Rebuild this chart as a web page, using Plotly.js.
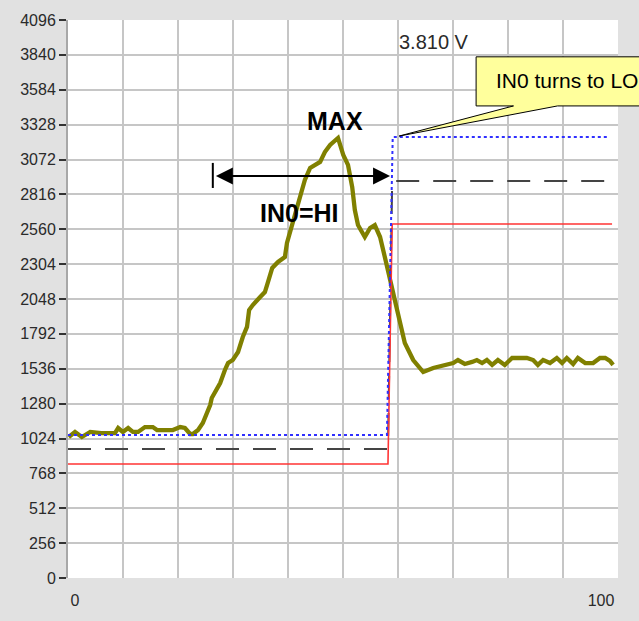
<!DOCTYPE html>
<html>
<head>
<meta charset="utf-8">
<script src="https://cdn.plot.ly/plotly-3.0.1.min.js"></script>
<style>
  html, body { margin: 0; padding: 0; background: #e1e1e1; }
  #chart { width: 639px; height: 621px; }
</style>
</head>
<body>
<div id="chart"></div>
<script>
// ---- data (sample index vs ADC value) ----
const signalX = [-1.2, 0, 1.3, 2.9, 5, 7.6, 8.2, 9.1, 10.1, 11.0, 12.0, 13.3, 14.8, 15.6, 18.6, 20.0, 20.9, 21.9, 22.4, 23.4, 24.3, 25.1, 25.7, 26.0, 27.6, 28.5, 29.1, 30.0, 31.0, 31.9, 32.7, 33.1, 33.8, 35.2, 36.1, 36.7, 37.5, 38.6, 39.9, 40.3, 40.9, 41.8, 42.8, 43.7, 44.7, 46.6, 47.5, 48.5, 50.0, 51.0, 51.9, 52.7, 53.2, 53.8, 55.1, 56.1, 57.0, 58.0, 58.9, 59.9, 60.8, 61.8, 62.7, 64.3, 66.2, 68.1, 70.0, 71.9, 72.8, 74.1, 75.5, 76.4, 77.4, 78.3, 79.3, 80.4, 81.7, 83.1, 84.6, 85.9, 87.1, 88.0, 89.0, 90.3, 91.6, 92.6, 93.5, 94.7, 95.6, 97.0, 98.5, 99.8, 100.8, 101.7, 102.3];
const signalY = [1035, 1072, 1035, 1072, 1064, 1064, 1101, 1072, 1101, 1072, 1072, 1108, 1108, 1086, 1086, 1108, 1101, 1057, 1057, 1086, 1138, 1211, 1270, 1321, 1431, 1527, 1578, 1600, 1659, 1769, 1843, 1967, 2004, 2063, 2099, 2173, 2276, 2320, 2356, 2459, 2540, 2665, 2800, 2922, 3010, 3054, 3127, 3179, 3230, 3105, 3032, 2870, 2701, 2591, 2503, 2569, 2591, 2503, 2356, 2188, 2019, 1843, 1725, 1600, 1512, 1542, 1564, 1578, 1600, 1571, 1586, 1600, 1578, 1600, 1564, 1600, 1564, 1615, 1615, 1615, 1600, 1564, 1600, 1578, 1615, 1578, 1615, 1571, 1615, 1578, 1578, 1615, 1615, 1593, 1564];

const blueX = [-1.33, 59.3, 60.4, 101.3];
const blueY = [1050, 1050, 3237, 3237];
const dashX = [-1.33, 59.5, 60.3, 100.8];
const dashY = [947, 947, 2914, 2914];
const redX  = [-1.33, 59.5, 60.3, 102.1];
const redY  = [837, 837, 2599, 2599];

const xTickVals = [0, 100];
const xTickText = ['0', '100'];
const yTickVals = [0, 256, 512, 768, 1024, 1280, 1536, 1792, 2048, 2304, 2560, 2816, 3072, 3328, 3584, 3840, 4096];
const yTickText = yTickVals.map(String);

const FONT = '"Liberation Sans", Arial, sans-serif';

const traces = [
  { x: [0, 10], y: [null, null], xaxis: 'x2', yaxis: 'y', mode: 'lines',
    showlegend: false, hoverinfo: 'skip' },
  { x: signalX, y: signalY, mode: 'lines', line: { color: '#808000', width: 4.3 },
    showlegend: false },
  { x: dashX, y: dashY, mode: 'lines', line: { color: '#444444', width: 2, dash: '23px,14px' },
    showlegend: false },
  { x: redX, y: redY, mode: 'lines', line: { color: '#ff3535', width: 1.6 },
    showlegend: false },
  { x: blueX, y: blueY, mode: 'lines', line: { color: '#3030ff', width: 2, dash: 'dot' },
    showlegend: false }
];

const layout = {
  width: 639, height: 621,
  margin: { l: 68, r: 21, t: 20, b: 43 },
  paper_bgcolor: '#e1e1e1',
  plot_bgcolor: '#ffffff',
  font: { family: FONT, color: '#2a2a2a', size: 16 },
  showlegend: false,
  xaxis: {
    range: [-1.33, 103.23], tickvals: xTickVals, ticktext: xTickText,
    showgrid: false, zeroline: false, showline: false,
    ticks: 'outside', ticklen: 8, tickcolor: 'rgba(0,0,0,0)',
    tickfont: { size: 16, color: '#2a2a2a' }, fixedrange: true
  },
  xaxis2: {
    range: [0, 10], dtick: 1, tick0: 0, overlaying: 'x', anchor: 'y',
    showgrid: true, gridcolor: '#c6c6c6', gridwidth: 2,
    showticklabels: false, ticks: '', zeroline: false, showline: false
  },
  yaxis: {
    range: [0, 4096], tickvals: yTickVals, ticktext: yTickText,
    showgrid: true, gridcolor: '#c6c6c6', gridwidth: 2,
    zeroline: false, showline: true, linecolor: '#a8a8a8', linewidth: 2,
    ticks: 'outside', ticklen: 7, tickwidth: 2, tickcolor: '#333333',
    tickfont: { size: 16, color: '#2a2a2a' }
  },
  shapes: [
    // end bar of the IN0=HI arrow
    { type: 'line', xref: 'x', yref: 'y', x0: 26.2, x1: 26.2, y0: 2863, y1: 3047,
      line: { color: '#000000', width: 2 } },
    // callout balloon
    { type: 'path', xref: 'paper', yref: 'paper', layer: 'above',
      path: 'M 0.742 0.846 L 0.742 0.934 L 1.2 0.934 L 1.2 0.846 L 0.89 0.846 L 0.602 0.792 L 0.81 0.846 Z',
      fillcolor: '#ffff9c', line: { color: '#000000', width: 1 } }
  ],
  annotations: [
    { x: 59.9, y: 2951, ax: 26.5, ay: 2951, xref: 'x', yref: 'y', axref: 'x', ayref: 'y',
      text: '', showarrow: true, arrowhead: 2, startarrowhead: 2, arrowside: 'end+start',
      arrowsize: 1.7, startarrowsize: 1.7, arrowwidth: 2, arrowcolor: '#000000' },
    { x: 49.4, y: 3355, xref: 'x', yref: 'y', text: '<b>MAX</b>', showarrow: false,
      font: { size: 25, color: '#000000', family: FONT } },
    { x: 42.6, y: 2679, xref: 'x', yref: 'y', text: '<b>IN0=HI</b>', showarrow: false,
      font: { size: 25, color: '#000000', family: FONT } },
    { x: 0.598, y: 0.961, xref: 'paper', yref: 'paper', xanchor: 'left', yanchor: 'middle',
      text: '3.810 V', showarrow: false, font: { size: 20, color: '#2a2a2a', family: FONT } },
    { x: 0.775, y: 0.891, xref: 'paper', yref: 'paper', xanchor: 'left', yanchor: 'middle',
      text: 'IN0 turns to LO', showarrow: false, font: { size: 21, color: '#000000', family: FONT } }
  ]
};

Plotly.newPlot('chart', traces, layout, { staticPlot: true, displayModeBar: false });
</script>
</body>
</html>
